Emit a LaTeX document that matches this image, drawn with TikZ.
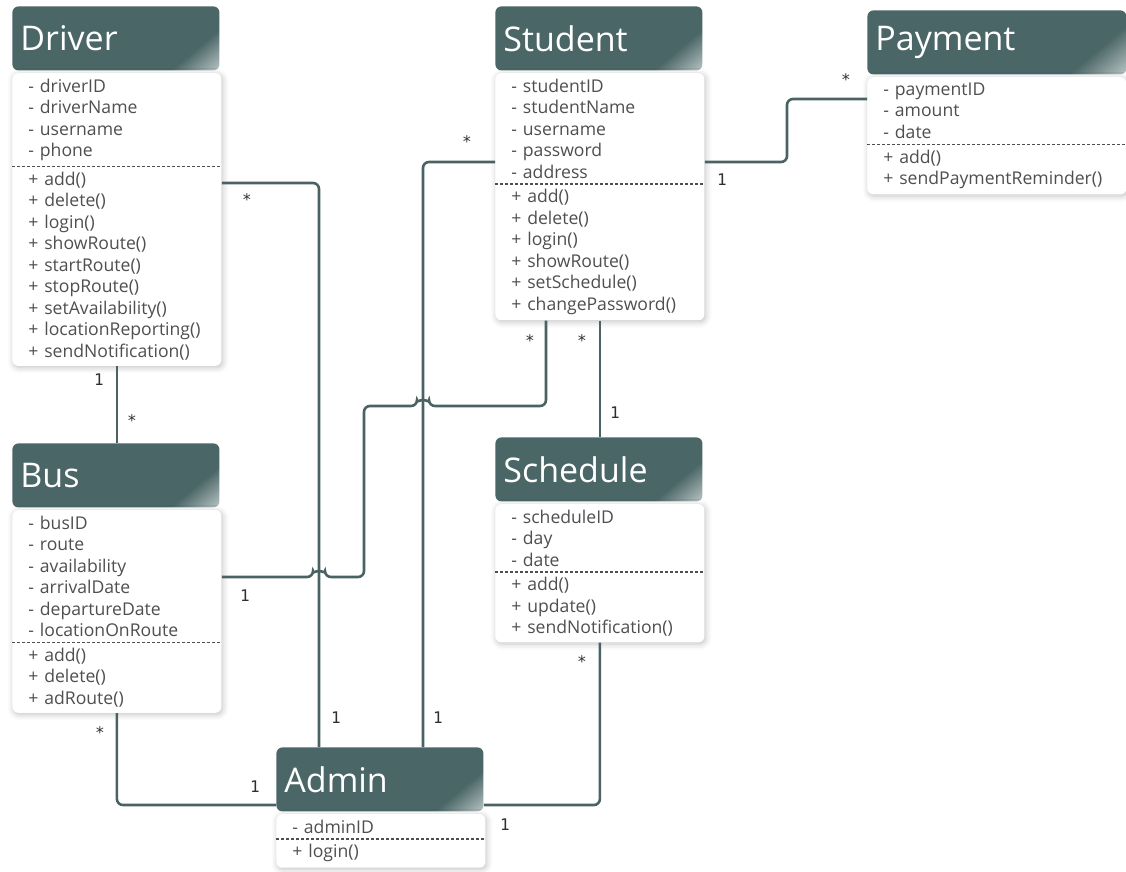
\documentclass[tikz,border=0pt]{standalone}
\usepackage{fontspec}
\setmainfont{Open Sans}
\newfontfamily\multfont{DejaVu Sans Mono}
\usepackage{tikz}
\usetikzlibrary{positioning, shapes.multipart, shadows.blur}
\definecolor{hdark}{HTML}{4B6666}
\definecolor{hlight}{HTML}{C9D2D2}
\definecolor{linec}{HTML}{4A6262}
\definecolor{bodytext}{HTML}{4F4F4F}
\definecolor{multc}{HTML}{2F2F2F}
\pgfdeclarehorizontalshading{hdrshade}{100bp}{color(0bp)=(hdark); color(73bp)=(hdark); color(87bp)=(hlight); color(100bp)=(hlight)}
\hyphenpenalty=10000

\begin{document}
\begin{tikzpicture}[x=0.5pt, y=-0.5pt]
\tikzset{
  hdr/.style={rectangle, rounded corners=3pt, shading=hdrshade, shading angle=-50, anchor=north west,
    minimum height=32pt, text width=95.5pt, inner xsep=4pt, align=left, text=white,
    font=\fontsize{17}{19}\selectfont},
  body/.style={rectangle split, rectangle split parts=2, rounded corners=3pt, fill=white,
    text width=88.5pt, inner xsep=8pt, inner ysep=2.6pt, align=left, text=bodytext,
    font=\fontsize{8.8}{10.75}\selectfont,
    blur shadow={shadow xshift=0.6pt, shadow yshift=-0.8pt, shadow blur radius=3pt, shadow opacity=25}},
  divider/.style={draw=bodytext, line width=0.6pt, dash pattern=on 1.5pt off 1pt},
  link/.style={draw=linec, line width=1.3pt, rounded corners=3pt},
  mult/.style={text=multc, font=\multfont\fontsize{8}{9}\selectfont, inner sep=0pt}
}
\useasboundingbox (0,0) rectangle (1126,872);

\node[hdr] (drv) at (12,6) {Driver};
\node[body, below right=1pt and 0pt of drv.south west] (drvb) {- driverID\\- driverName\\- username\\- phone
  \nodepart{two} + add()\\+ delete()\\+ login()\\+ showRoute()\\+ startRoute()\\+ stopRoute()\\+ setAvailability()\\+ locationReporting()\\+ sendNotification()};

\node[hdr] (stu) at (495,6) {Student};
\node[body, below right=1pt and 0pt of stu.south west] (stub) {- studentID\\- studentName\\- username\\- password\\- address
  \nodepart{two} + add()\\+ delete()\\+ login()\\+ showRoute()\\+ setSchedule()\\+ changePassword()};

\node[hdr, text width=121.5pt] (pay) at (867,10) {Payment};
\node[body, text width=113.5pt, below right=1pt and 0pt of pay.south west] (payb) {- paymentID\\- amount\\- date
  \nodepart{two} + add()\\+ sendPaymentReminder()};

\node[hdr] (bus) at (12,443) {Bus};
\node[body, below right=1pt and 0pt of bus.south west] (bub) {- busID\\- route\\- availability\\- arrivalDate\\- departureDate\\- locationOnRoute
  \nodepart{two} + add()\\+ delete()\\+ adRoute()};

\node[hdr] (sch) at (495,437) {Schedule};
\node[body, below right=1pt and 0pt of sch.south west] (schb) {- scheduleID\\- day\\- date
  \nodepart{two} + add()\\+ update()\\+ sendNotification()};

\node[hdr] (adm) at (276,747) {Admin};
\node[body, below right=1pt and 0pt of adm.south west] (admb) {- adminID
  \nodepart{two} + login()};

\foreach \b in {drvb,stub,payb,bub,schb,admb}
  \draw[divider] (\b.text split west) -- (\b.text split east);

\draw[link] (drvb.south) -- (drvb.south |- bus.north);
\draw[link] (drvb.east |- 0,183) -| (319,0 |- adm.north);
\draw[link] (stub.west |- 0,162) -| (423,0 |- adm.north);
\draw[link] (stub.east |- 0,162) -| (787,99) -- (payb.west |- 0,99);
\draw[link] (546,0 |- stub.south) |- (429,406) arc[start angle=0, end angle=-180, radius=6]
  -| (364,577) -- (325,577) arc[start angle=0, end angle=-180, radius=6] -- (bub.east |- 0,577);
\draw[link] (stub.south) -- (stub.south |- sch.north);
\draw[link] (schb.south) |- (adm.east |- 0,805);
\draw[link] (bub.south) |- (adm.west |- 0,805);

\node[mult] (m1) at (99,380) {1};
\node[mult] (m2) at (132,421) {*};
\node[mult] (m3) at (247,200) {*};
\node[mult] (m4) at (336,718) {1};
\node[mult] (m5) at (467,142) {*};
\node[mult] (m6) at (438,718) {1};
\node[mult] (m7) at (722,180) {1};
\node[mult] (m8) at (846,80) {*};
\node[mult] (m9) at (530,341) {*};
\node[mult] (m10) at (245,596) {1};
\node[mult] (m11) at (582,341) {*};
\node[mult] (m12) at (615,413) {1};
\node[mult] (m13) at (582,662) {*};
\node[mult] (m14) at (505,825) {1};
\node[mult] (m15) at (100,733) {*};
\node[mult] (m16) at (255,787) {1};
\end{tikzpicture}
\end{document}
